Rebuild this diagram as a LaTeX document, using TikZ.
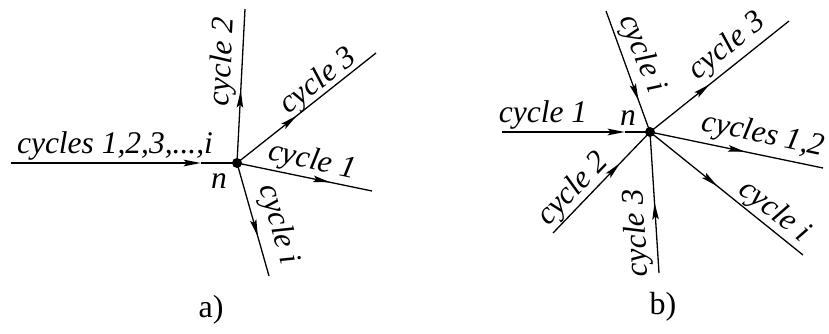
\documentclass[tikz,border=0pt]{standalone}
\usepackage{fontspec}
\setmainfont{Liberation Serif}
\newfontfamily\tnr{Liberation Serif}
\usetikzlibrary{arrows.meta,decorations.markings}
\tikzset{
 edge/.style={line width=1.3pt},
 feed/.style={line width=2.6pt},
 dot/.style={circle,fill,inner sep=0pt,minimum size=10pt},
 lbl/.style={font=\tnr\fontsize{31.5}{36}\selectfont\itshape, inner sep=0pt, text height=21.5pt, text depth=7pt},
 capt/.style={font=\tnr\fontsize{32}{36}\selectfont, inner sep=0pt, text height=21.5pt, text depth=7pt},
 tipstyle/.style={-{Stealth[length=17pt,width=6.5pt,inset=3pt]}},
 midarrow/.style={postaction={decorate},decoration={markings,mark=at position #1 with {\arrow{Stealth[length=17pt,width=6.5pt,inset=3pt]}}}},
}
\begin{document}
\begin{tikzpicture}[x=1pt,y=-1pt]
\useasboundingbox (0,0) rectangle (829,334);
% ---------- a) ----------
\node[dot] (na) at (237,163) {};
\coordinate (ain) at (11,163);
\coordinate (a2) at (245,9);
\coordinate (a3) at (376,53);
\coordinate (a1) at (372,191);
\coordinate (ai) at (269,276);
\path (ain) -- coordinate[pos=0.84] (aarr) (na.center);
\draw[feed,tipstyle] (ain) -- (aarr);
\draw[edge] (aarr) -- (na.center);
\draw[edge,midarrow=0.47] (na.center) -- (a2);
\draw[edge,midarrow=0.43] (na.center) -- (a3);
\draw[edge,midarrow=0.69] (na.center) -- (a1);
\draw[edge,midarrow=0.65] (na.center) -- (ai);
\node[lbl] (la0) at (115,146) {cycles 1,2,3,...,i};
\node[lbl] (lan) at (219,181) {n};
\node[lbl,rotate=87] (la2) at (224,62) {cycle 2};
\node[lbl,rotate=38] (la3) at (319,82) {cycle 3};
\node[lbl,rotate=-12] (la1) at (312,162) {cycle 1};
\node[lbl,rotate=-74] (lai) at (278,225) {cycle i};
\node[capt] (capa) at (211,310) {a)};
% ---------- b) ----------
\node[dot] (nb) at (650,132) {};
\coordinate (bin1) at (502,132);
\coordinate (bini) at (606,11);
\coordinate (bin2) at (553,233);
\coordinate (bin3) at (659,273);
\coordinate (bo3) at (789,21);
\coordinate (bo12) at (823,168);
\coordinate (boi) at (803,255);
\path (bin1) -- coordinate[pos=0.83] (barr) (nb.center);
\draw[feed,tipstyle] (bin1) -- (barr);
\draw[edge] (barr) -- (nb.center);
\draw[edge,midarrow=0.74] (bini) -- (nb.center);
\draw[edge,midarrow=0.69] (bin2) -- (nb.center);
\draw[edge,midarrow=0.50] (bin3) -- (nb.center);
\draw[edge,midarrow=0.43] (nb.center) -- (bo3);
\draw[edge,midarrow=0.55] (nb.center) -- (bo12);
\draw[edge,midarrow=0.44] (nb.center) -- (boi);
\node[lbl] (lb1) at (543,115) {cycle 1};
\node[lbl] (lbn) at (628,118) {n};
\node[lbl,rotate=-68] (lbi) at (641,54) {cycle i};
\node[lbl,rotate=46] (lb2) at (574,190) {cycle 2};
\node[lbl,rotate=93] (lb3) at (638,233) {cycle 3};
\node[lbl,rotate=38.5] (lbo3) at (728,47) {cycle 3};
\node[lbl,rotate=-12] (lb12) at (763,136) {cycles 1,2};
\node[lbl,rotate=-39] (lboi) at (774,212) {cycle i};
\node[capt] (capb) at (663,307) {b)};
\end{tikzpicture}
\end{document}
